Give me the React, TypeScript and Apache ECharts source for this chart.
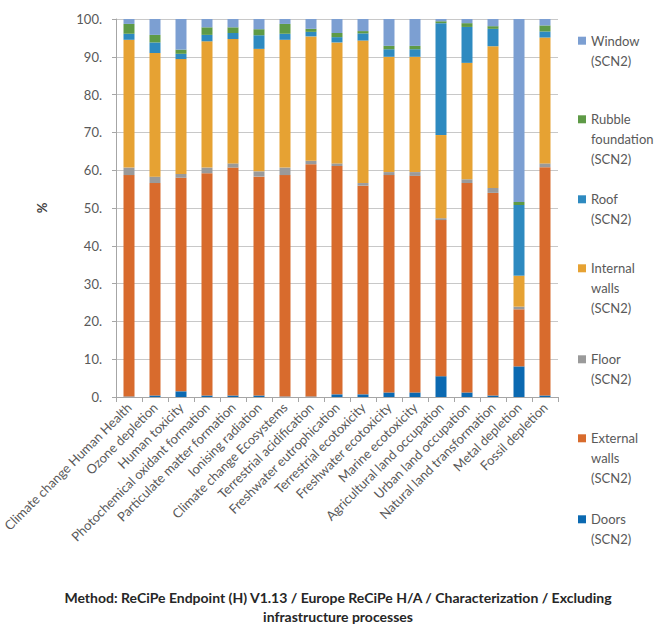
import React, { useEffect, useRef } from "react";
import * as echarts from "echarts";

// Impact categories (x axis)
const categories: string[] = [
  "Climate change Human Health",
  "Ozone depletion",
  "Human toxicity",
  "Photochemical oxidant formation",
  "Particulate matter formation",
  "Ionising radiation",
  "Climate change Ecosystems",
  "Terrestrial acidification",
  "Freshwater eutrophication",
  "Terrestrial ecotoxicity",
  "Freshwater ecotoxicity",
  "Marine ecotoxicity",
  "Agricultural land occupation",
  "Urban land occupation",
  "Natural land transformation",
  "Metal depletion",
  "Fossil depletion",
];

// Contribution of each building element, in %
const doors: number[] = [0.1, 0.4, 1.5, 0.4, 0.4, 0.4, 0.1, 0.1, 0.7, 0.7, 1.2, 1.2, 5.5, 1.2, 0.4, 8.1, 0.4];
const externalWalls: number[] = [58.6, 56.2, 56.5, 58.8, 60.3, 57.9, 58.6, 61.5, 60.4, 55.2, 57.5, 57.3, 41.3, 55.4, 53.6, 15.1, 60.4];
const floor: number[] = [2.0, 1.7, 1.0, 1.5, 1.1, 1.4, 2.0, 0.9, 0.7, 0.7, 0.8, 1.0, 0.5, 1.0, 1.3, 0.7, 1.0];
const internalWalls: number[] = [33.8, 32.7, 30.4, 33.4, 32.9, 32.4, 33.8, 32.9, 32.0, 37.7, 30.5, 30.5, 22.0, 30.8, 37.5, 8.2, 33.3];
const roof: number[] = [1.6, 2.8, 1.4, 1.7, 1.6, 3.6, 1.6, 1.2, 1.4, 1.9, 2.0, 2.0, 29.6, 9.5, 4.6, 18.7, 1.6];
const rubbleFoundation: number[] = [2.6, 2.0, 1.1, 2.0, 1.5, 1.6, 2.6, 0.8, 1.1, 0.6, 0.9, 0.9, 0.5, 1.0, 0.7, 0.8, 1.6];
const windowPart: number[] = [1.3, 4.2, 8.1, 2.2, 2.2, 2.7, 1.3, 2.6, 3.7, 3.2, 7.1, 7.1, 0.6, 1.1, 1.9, 48.4, 1.7];

// Y axis ticks
const yTicks = { min: 0, max: 100, interval: 10 };

// Series, bottom of the stack first
const seriesDefs = [
  { name: "Doors (SCN2)", lines: ["Doors", "(SCN2)"], data: doors, color: "#0b69b1" },
  { name: "External walls (SCN2)", lines: ["External", "walls", "(SCN2)"], data: externalWalls, color: "#d86b2d" },
  { name: "Floor (SCN2)", lines: ["Floor", "(SCN2)"], data: floor, color: "#9a9a9a" },
  { name: "Internal walls (SCN2)", lines: ["Internal", "walls", "(SCN2)"], data: internalWalls, color: "#e6a233" },
  { name: "Roof (SCN2)", lines: ["Roof", "(SCN2)"], data: roof, color: "#2e8ac0" },
  { name: "Rubble foundation (SCN2)", lines: ["Rubble", "foundation", "(SCN2)"], data: rubbleFoundation, color: "#5e9a46" },
  { name: "Window (SCN2)", lines: ["Window", "(SCN2)"], data: windowPart, color: "#7c9fd2" },
];

// Vertical position (first text line centre) of each legend entry
const legendFirstLineY: Record<string, number> = {
  "Window (SCN2)": 40.7,
  "Rubble foundation (SCN2)": 119.3,
  "Roof (SCN2)": 199.3,
  "Internal walls (SCN2)": 268.3,
  "Floor (SCN2)": 359.3,
  "External walls (SCN2)": 438.3,
  "Doors (SCN2)": 519.3,
};

const title =
  "Method: ReCiPe Endpoint (H) V1.13 / Europe ReCiPe H/A / Characterization / Excluding\ninfrastructure processes";

const FONT = "Lato, 'Open Sans', sans-serif";
const LINE_H = 20;

export default function App() {
  const ref = useRef<HTMLDivElement>(null);

  useEffect(() => {
    if (!ref.current) return;
    const chart = echarts.init(ref.current, null, { renderer: "svg" });

    // One legend block per entry so that the icon sits beside the first line
    const legends = seriesDefs.map((s) => {
      const n = s.lines.length;
      return {
        orient: "vertical",
        left: 578,
        top: legendFirstLineY[s.name] - ((2 * n - 1) * LINE_H) / 2,
        padding: 0,
        data: [s.name],
        icon: "rect",
        itemWidth: 8,
        itemHeight: 8,
        selectedMode: false,
        formatter: () => "\n".repeat(n - 1) + s.lines.join("\n"),
        textStyle: {
          fontFamily: FONT,
          fontSize: 13,
          lineHeight: LINE_H,
          color: "#595959",
        },
      };
    });

    chart.setOption({
      animation: false,
      backgroundColor: "#ffffff",
      textStyle: { fontFamily: FONT },
      title: {
        text: title,
        left: 338,
        textAlign: "center",
        top: 588,
        padding: 0,
        textStyle: {
          fontFamily: FONT,
          fontSize: 14,
          fontWeight: "bold",
          lineHeight: 19,
          color: "#262626",
        },
      },
      legend: legends,
      grid: {
        left: 116,
        top: 19,
        right: 111,
        bottom: 231,
        containLabel: false,
        outerBoundsMode: "none",
      },
      xAxis: {
        type: "category",
        data: categories,
        axisLine: { show: true, lineStyle: { color: "#a6a6a6", width: 1 } },
        axisTick: { show: true, alignWithLabel: false, length: 5, lineStyle: { color: "#a6a6a6" } },
        axisLabel: {
          rotate: 45,
          interval: 0,
          margin: 8,
          fontFamily: FONT,
          fontSize: 13,
          color: "#595959",
        },
        splitLine: { show: false },
      },
      yAxis: {
        type: "value",
        min: yTicks.min,
        max: yTicks.max,
        interval: yTicks.interval,
        name: "%",
        nameLocation: "middle",
        nameGap: 68,
        nameTextStyle: { fontFamily: FONT, fontSize: 13, fontWeight: "bold", color: "#404040" },
        axisLine: { show: true, lineStyle: { color: "#a6a6a6", width: 1 } },
        axisTick: { show: true, length: 4, lineStyle: { color: "#a6a6a6" } },
        axisLabel: {
          margin: 14,
          fontFamily: FONT,
          fontSize: 13,
          color: "#595959",
          formatter: (v: number) => `${v}.`,
        },
        splitLine: { show: true, lineStyle: { color: "#c8c8c8", width: 1 } },
      },
      series: seriesDefs.map((s) => ({
        name: s.name,
        type: "bar",
        stack: "total",
        barWidth: 11,
        data: s.data,
        itemStyle: { color: s.color },
        emphasis: { disabled: true },
      })),
    });

    return () => chart.dispose();
  }, []);

  return (
    <div
      ref={ref}
      style={{ position: "fixed", left: 0, top: 0, width: 669, height: 628, background: "#fff" }}
    />
  );
}
